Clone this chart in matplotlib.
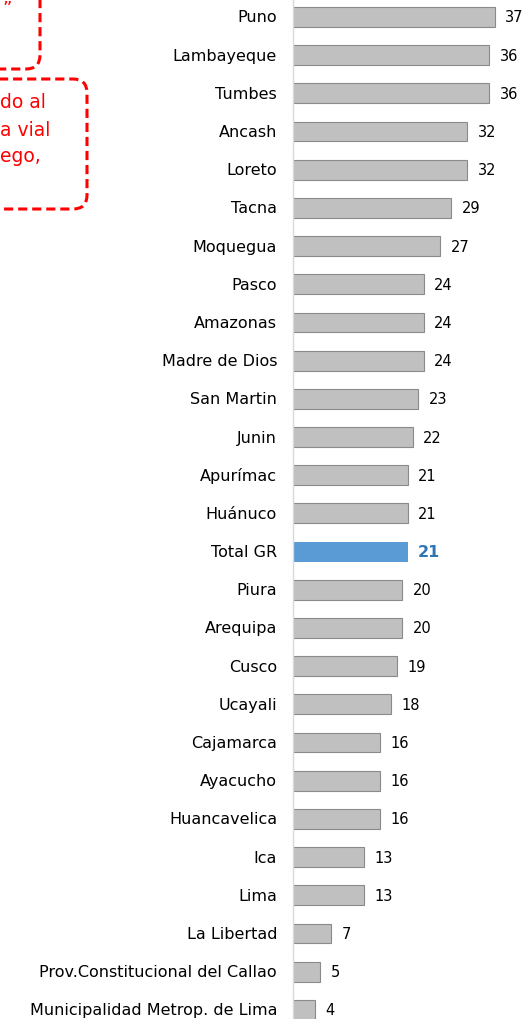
import matplotlib
matplotlib.use("Agg")
from matplotlib import pyplot as plt
from matplotlib.patches import FancyBboxPatch

plt.rcParams["font.family"] = ["DejaVu Sans"]

regions = [
    "Puno", "Lambayeque", "Tumbes", "Ancash", "Loreto", "Tacna", "Moquegua",
    "Pasco", "Amazonas", "Madre de Dios", "San Martin", "Junin", "Apurímac",
    "Huánuco", "Total GR", "Piura", "Arequipa", "Cusco", "Ucayali",
    "Cajamarca", "Ayacucho", "Huancavelica", "Ica", "Lima", "La Libertad",
    "Prov.Constitucional del Callao", "Municipalidad Metrop. de Lima",
]
values = [37, 36, 36, 32, 32, 29, 27, 24, 24, 24, 23, 22, 21, 21, 21, 20, 20,
          19, 18, 16, 16, 16, 13, 13, 7, 5, 4]
highlight = "Total GR"

# visible pieces of the cut-off note boxes at the top-left
note_top = "”"
note_lines = ["do al", "a vial", "ego,"]

fig = plt.figure(figsize=(5.28, 10.2), dpi=100)
ax = fig.add_axes([293 / 528, 0, 1 - 293 / 528, 1])

for i, (name, v) in enumerate(zip(regions, values)):
    if name == highlight:
        ax.barh(i, v, height=0.52, color="#5b9bd5", edgecolor="none")
        ax.text(v + 1.9, i, str(v), va="center", ha="left", fontsize=11.5,
                fontweight="bold", color="#2e75b6")
    else:
        ax.barh(i, v, height=0.52, color="#c0c0c0", edgecolor="#8a8a8a",
                linewidth=0.8)
        ax.text(v + 1.9, i, str(v), va="center", ha="left", fontsize=10.5,
                color="black")

ax.set_xlim(0, 43.1)
ax.set_ylim(26.24, -0.47)
ax.set_yticks(range(len(regions)))
ax.set_yticklabels(regions, fontsize=11.5, va="center")
ax.tick_params(axis="y", length=0, pad=11.5)
ax.set_xticks([])
for s in ["top", "right", "bottom"]:
    ax.spines[s].set_visible(False)
ax.spines["left"].set_color("#d9d9d9")
ax.spines["left"].set_linewidth(1)

# overlay in pixel coordinates for the note boxes
ov = fig.add_axes([0, 0, 1, 1], zorder=-1)
ov.set_xlim(0, 528)
ov.set_ylim(1020, 0)
ov.axis("off")

for (x0, y0, w, h) in [(-200, -60, 240, 130), (-200, 80, 287, 130)]:
    ov.add_patch(FancyBboxPatch((x0, y0), w, h,
                                boxstyle="round,pad=0,rounding_size=14",
                                fill=False, edgecolor="red",
                                linestyle=(0, (3, 1.6)), linewidth=2.2))

ov.text(2, 9, note_top, color="red", fontsize=13, ha="left", va="center")
for k, line in enumerate(note_lines):
    ov.text(0, 103 + k * 27, line, color="red", fontsize=13.5, ha="left",
            va="center")

fig.savefig("out.png", dpi=100)
